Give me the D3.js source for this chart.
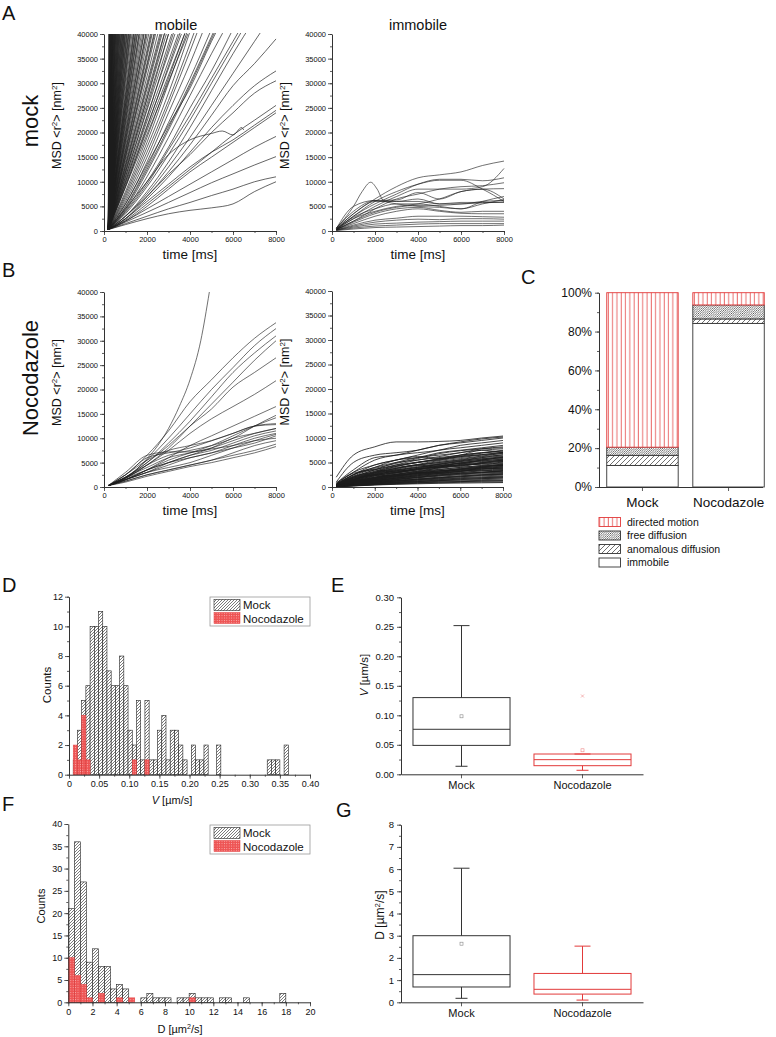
<!DOCTYPE html>
<html><head><meta charset="utf-8">
<script src="https://cdn.jsdelivr.net/npm/d3@7"></script>
<style>
body{margin:0;background:#fff}
svg{display:block}
text{font-family:"Liberation Sans",Arial,sans-serif;fill:#111}
</style>
</head><body>
<svg id="c" width="776" height="1037"></svg>
<script>
// ---------------- DATA ----------------
const msdTimes = [200,1000,2000,3000,4000,5000,6000,7000,8000];
const msdXTicks = [0,2000,4000,6000,8000];
const msdYTicks = [0,5000,10000,15000,20000,25000,30000,35000,40000];

// mock / mobile : steep tracks leaving the plot at 40000 nm² (exit time, ms)
const mockMobileStart = [200,300];
const mockMobileExitTimes = [220,235,250,260,265,280,295,300,310,325,340,345,355,370,380,385,400,415,420,430,450,460,470,490,500,510,530,540,550,575,590,600,625,640,650,675,690,700,730,740,760,790,800,820,850,860,880,910,920,940,970,990,1000,1040,1060,1080,1120,1140,1160,1200,1220,1250,1300,1350,1380,1400,1450,1460,1500,1540,1560,1620,1640,1680,1740,1800,1850,1870,1940,1960,2010,2080,2160,2200,2240,2320,2350,2400,2500,2600,2650,2700,2800,2900,3000,3150,3300,3450,3600,3750,3900];
// mock / mobile : slower tracks (MSD at msdTimes)
const mockMobileCurves = [
 [300,5000,13000,22000,31000,41000],
 [300,4500,12000,20500,29500,39000,48000],
 [300,5500,13500,21500,29000,38500,47000],
 [300,4000,10000,17000,25000,32500,41000],
 [300,3500,9000,15500,22500,30000,37500,45000],
 [300,3000,8000,14000,21000,28500,36000,43000],
 [300,3000,7500,13000,19000,25500,32000,38500,45000],
 [300,2500,7000,12000,17500,23500,29500,34000,39000],
 [300,2500,6500,11000,16000,21000,25500,29500,32500],
 [300,3000,7000,11500,15500,20000,24000,28000,30500],
 [300,2200,5500,9000,12500,16000,19500,22500,25500],
 [300,2500,6000,9500,13000,16000,18500,21500,24500],
 [300,2000,5000,8500,12000,15000,18000,21000,24000],
 [300,2000,4500,7000,9500,12000,14500,17000,19200],
 [300,1800,3800,5800,7800,9800,11600,13400,15100],
 [300,1500,3000,4500,5800,7200,8500,10000,11000],
 [300,1300,2500,3500,4200,4700,5500,8000,10000],
 [300,7000,17000,28000,40500],
 [300,8000,19000,31000,43000],
 [300,9000,21000,33500,46000],
 [300,10000,23000,37000,51000],
 [300,6000,15000,25500,36500,48000],
 [300,6500,16000,26500,38000,50000],
 [300,5500,14000,24000,34000,45000],
 [300,7500,18000,30000,42000],
 [300,11000,25000,40000],
 [300,12000,27000,43000],
 [300,4800,12500,21000,30000,39500,49000],
 [300,4200,11000,19000,27500,36000,44000],
 [300,3800,9500,16500,23500,31000,38500,46000]
];
const mockMobileWiggle = [[200,300],[1000,4500],[2000,10000],[3000,15500],[4000,18500],[5000,19800],[5500,20300],[6000,19500],[6400,21000],[6500,20500]];

// mock / immobile
const mockImmobileCurves = [
 [500,3500,6500,9000,10800,11400,12000,13300,14200],
 [400,3000,6000,8000,9500,10300,10300,8500,6000],
 [600,4000,6200,6300,7800,6500,8000,8500,6500],
 [300,2500,5000,7000,8500,8500,8500,9000,12700],
 [300,3000,5500,7500,9500,10500,10500,10200,10800],
 [300,2000,4500,6500,7500,8500,9000,9200,9800],
 [500,5000,6200,5500,5000,4800,4500,5500,6400],
 [400,2800,4500,5500,5500,5000,4500,6000,7000],
 [300,2000,3800,4800,5200,5200,5500,5700,5900],
 [300,1800,3500,4500,4800,4200,3800,4000,4000],
 [300,1500,3000,4000,4500,4000,3600,3500,3500],
 [200,1200,2200,2600,3000,3000,3000,2900,2800],
 [200,1000,1800,2200,2400,2300,2500,2500,2400],
 [200,800,1400,1600,1800,1900,2000,2000,2000],
 [150,600,1000,1200,1400,1500,1500,1500,1500],
 [100,400,700,800,900,1000,1100,1100,1200],
 [400,3500,6000,6000,6500,5500,5500,6000,6200],
 [300,2500,4000,5000,5500,6500,8000,8500,8600]
];
const mockImmobilePeak = [[200,600],[1000,5000],[1400,8000],[1800,9900],[2100,8500],[2400,6200],[3000,6000],[4000,6000],[5000,5500],[6000,5800],[7000,5800],[8000,5800]];

// nocodazole / mobile
const nocMobileCurves = [
 [300,2500,6500,11500,17500,22000,26500,30500,33700],
 [300,2000,5500,10000,15000,20000,24500,29000,32500],
 [300,2000,5000,9000,13500,18500,23500,27500,31000],
 [300,1800,4500,8000,12500,17000,21500,26000,30000],
 [300,2000,5000,8500,12500,16000,20500,23500,26500],
 [300,1800,4500,7500,11000,14000,16500,19000,21800],
 [300,1500,3500,6000,8500,10500,12500,14500,16500],
 [300,2000,4500,6500,7500,8500,10000,12500,14700],
 [300,1500,3500,5500,7000,8500,10500,12500,14200],
 [300,2500,5500,7500,8500,9500,11000,12500,12800],
 [300,2000,4000,6000,7000,8000,9500,11000,12000],
 [300,1500,3500,5000,6500,7500,9000,10500,11500],
 [300,1500,3000,4500,6000,7000,8500,10000,11000],
 [300,1500,3000,4000,5000,6500,8000,9500,10800],
 [300,1800,3500,5000,6000,7000,8000,9000,10500],
 [300,1200,2500,3500,4500,5500,7000,8500,9500],
 [300,1200,2500,3500,4500,5500,6500,7500,8800],
 [300,1000,2200,3200,4200,5000,6000,7000,8300],
 [300,3000,6500,7200,7200,7800,8500,9500,10000],
 [300,2500,6000,7000,8000,9500,11000,12500,13000],
 [300,1500,3000,5000,6500,8000,10000,11000,12000]
];
const nocMobileSteep = [[200,300],[1000,1800],[2000,5800],[2500,8500],[3000,12000],[3500,16500],[4000,22000],[4500,30000],[4900,40000]];

// nocodazole / immobile
const nocImmobileCurves = [
 [2000,6500,8200,9200,9200,9300,9500,10000,10400],
 [1000,5000,6500,7000,7500,8500,9000,9500,10000],
 [800,3500,6000,6500,7500,8500,9200,9800,10200],
 [600,3000,5500,6500,7000,7500,8500,9000,9500],
 [500,2500,4500,5500,6500,7500,8000,8500,9000],
 [400,2500,4000,5500,6000,7000,7500,8000,8500],
 [500,2000,3500,5000,6000,6500,7000,7800,8200],
 [400,2200,3800,4800,5800,6800,7400,7800,8000],
 [300,1800,3200,4500,5500,6200,7000,7500,7800],
 [500,2500,4000,5000,5500,6000,6500,7000,7500],
 [300,1500,3000,4200,5000,5800,6500,7000,7200],
 [400,2000,3500,4500,5000,5500,6200,6600,7000],
 [300,1600,2800,3800,4600,5400,6000,6500,6800],
 [300,1400,2600,3600,4400,5000,5600,6200,6500],
 [400,1800,3000,4000,4500,5000,5500,6000,6300],
 [300,1200,2400,3400,4200,4800,5400,5800,6000],
 [300,1500,2700,3500,4000,4600,5200,5600,5800],
 [200,1100,2200,3000,3800,4400,5000,5400,5600],
 [300,1300,2300,3100,3700,4300,4800,5200,5400],
 [200,1000,2000,2800,3500,4100,4600,5000,5200],
 [300,1400,2500,3200,3700,4100,4500,4800,5000],
 [200,900,1800,2600,3300,3900,4400,4700,4800],
 [200,1000,1900,2600,3100,3600,4000,4400,4600],
 [200,800,1600,2300,2900,3500,4000,4300,4400],
 [200,900,1700,2400,2900,3300,3700,4000,4200],
 [200,700,1500,2200,2700,3200,3600,3900,4000],
 [200,800,1500,2100,2600,3000,3400,3700,3800],
 [200,700,1300,1900,2400,2800,3200,3500,3600],
 [200,600,1200,1800,2300,2700,3000,3300,3400],
 [200,700,1300,1800,2200,2500,2800,3000,3200],
 [200,600,1100,1600,2000,2400,2700,2900,3000],
 [200,500,1000,1500,1900,2200,2500,2700,2800],
 [150,500,1000,1400,1700,2000,2300,2500,2600],
 [150,450,900,1300,1600,1900,2100,2300,2400],
 [150,400,800,1200,1500,1700,1900,2100,2200],
 [150,400,750,1100,1400,1600,1800,1900,2000],
 [100,350,700,1000,1200,1400,1600,1700,1800],
 [100,300,600,900,1100,1300,1400,1500,1600],
 [100,300,550,800,1000,1150,1250,1350,1400],
 [100,250,500,700,900,1000,1100,1200,1200],
 [100,250,450,600,750,850,950,1000,1000],
 [100,200,400,550,650,750,800,850,900],
 [600,2800,3500,3000,3800,4500,4200,5000,5500],
 [800,3000,4500,5500,6200,5800,6500,7500,7000],
 [400,1500,2500,2200,3000,3500,3200,4000,4500],
 [300,2000,2800,3500,3200,4000,4800,4500,5200],
 [500,2200,3000,3800,4500,4000,4600,5500,6000],
 [200,1200,1800,2500,2800,3000,3500,3300,3000],
 [300,1000,2000,2500,3000,2800,3200,3800,3700],
 [400,1800,2600,3300,4000,4700,5300,6000,6600],
 [300,1300,2000,2900,3600,4200,4900,5500,6100],
 [200,900,1500,2000,2500,3000,3500,3900,4300],
 [300,1500,2500,3300,4000,4600,5200,5700,6200],
 [250,1100,1900,2600,3200,3800,4300,4800,5300],
 [200,900,1600,2200,2800,3300,3800,4200,4700],
 [200,700,1300,1800,2300,2800,3200,3600,3900],
 [150,600,1100,1500,1900,2300,2600,2900,3300],
 [150,500,900,1300,1600,1900,2200,2500,2700],
 [100,400,700,1000,1300,1500,1700,1900,2100],
 [400,2000,3200,4200,5000,5700,6300,6900,7400],
 [350,1700,2900,3800,4500,5200,5800,6300,6900],
 [300,1300,2300,3000,3600,4300,4900,5300,5700],
 [200,1000,1700,2300,2800,3300,3600,4100,4500],
 [250,800,1400,2000,2500,2900,3300,3700,4100],
 [150,700,1200,1600,2000,2400,2800,3000,3300],
 [100,500,900,1200,1500,1800,2100,2400,2600],
 [100,350,650,900,1100,1300,1500,1700,1900],
 [100,300,500,700,850,1000,1100,1200,1300],
 [500,2500,3600,4300,5100,5600,6200,6600,7100],
 [300,1600,2400,2900,3500,4000,4400,4900,5500],
 [200,1100,1800,2400,2700,3100,3700,4200,4400],
 [200,800,1400,1700,2100,2600,2900,3300,3500]
];

// C: fractions (%)
const cCategories = ["Mock","Nocodazole"];
const cImmobile = [11.1, 84.2];
const cAnomalous = [5.2, 2.3];
const cFree = [4.2, 7.2];
const cDirected = [79.5, 6.3];
const cYTicks = [0,20,40,60,80,100];
const cLegend = ["directed motion","free diffusion","anomalous diffusion","immobile"];

// D: velocity histogram (bin width 0.007 µm/s, from 0)
const vBinWidth = 0.007;
const mockVCounts = [0,1,3,5,6,10,10,11,10,7,6,6,8,6,3,2,5,1,5,1,1,3,4,1,3,3,2,1,0,2,1,1,2,0,0,2,0,0,0,0,0,0,0,0,0,0,0,1,1,1,0,2];
const nocVCounts  = [0,2,1,4,1,0,0,0,0,0,0,0,0,0,0,1,0,0,1];
const dXTicks = [0,0.05,0.10,0.15,0.20,0.25,0.30,0.35,0.40];
const dYTicks = [0,2,4,6,8,10,12];

// E: velocity box plot
const boxCategories = ["Mock","Nocodazole"];
const eWhiskLow = [0.0136, 0.0068];
const eQ1 = [0.049, 0.0146];
const eMedian = [0.0763, 0.0248];
const eQ3 = [0.130, 0.0344];
const eWhiskHigh = [0.252, 0.0344];
const eMean = [0.0983, 0.0407];
const eOutlier = [null, 0.1327];
const eYTicks = [0,0.05,0.10,0.15,0.20,0.25,0.30];

// F: diffusion histogram (bin width 0.5 µm²/s)
const dBinWidth = 0.5;
const mockDCounts = [21,36,27,9,12,8,8,3,4,3,0,0,1,2,1,1,1,0,1,1,2,1,1,1,0,1,1,0,0,1,0,0,0,0,0,2];
const nocDCounts  = [10,6,4,1,0,2,0,0,1,0,1,0,0,0,0,0,0,0,0,0,1];
const fXTicks = [0,2,4,6,8,10,12,14,16,18,20];
const fYTicks = [0,5,10,15,20,25,30,35,40];

// G: diffusion box plot
const gWhiskLow = [0.18, 0.10];
const gQ1 = [0.69, 0.37];
const gMedian = [1.246, 0.585];
const gQ3 = [3.0, 1.3];
const gWhiskHigh = [6.04, 2.53];
const gMean = [2.64, null];
const gOutlier = [null, null];
const gYTicks = [0,1,2,3,4,5,6,7,8];

// ---------------- DRAWING ----------------
const svg = d3.select("#c");
const defs = svg.append("defs");
const RED = "#e23a3a";
const AX = "#333";

// patterns
function pat(id,w,h){return defs.append("pattern").attr("id",id).attr("patternUnits","userSpaceOnUse").attr("width",w).attr("height",h);}
{ const p=pat("hatchMock",3,3);
  p.append("rect").attr("width",3).attr("height",3).attr("fill","#fff");
  p.append("path").attr("d","M-0.75,0.75L0.75,-0.75M0,3L3,0M2.25,3.75L3.75,2.25").attr("stroke","#222").attr("stroke-width",0.6); }
{ const p=pat("dotsNoc",2.4,2.4);
  p.append("rect").attr("width",2.4).attr("height",2.4).attr("fill","#ee5454");
  p.append("circle").attr("cx",1.2).attr("cy",1.2).attr("r",0.5).attr("fill","#fbc4c4"); }
{ const p=pat("directed",4.3,10);
  p.append("rect").attr("width",4.3).attr("height",10).attr("fill","#fff");
  p.append("line").attr("x1",2).attr("x2",2).attr("y1",0).attr("y2",10).attr("stroke",RED).attr("stroke-width",0.8); }
{ const p=pat("free",2.2,2.2);
  p.append("rect").attr("width",2.2).attr("height",2.2).attr("fill","#fff");
  p.append("path").attr("d","M-0.55,0.55L0.55,-0.55M0,2.2L2.2,0M1.65,2.75L2.75,1.65").attr("stroke","#444").attr("stroke-width",0.7); }
{ const p=pat("anom",5,5);
  p.append("rect").attr("width",5).attr("height",5).attr("fill","#fff");
  p.append("path").attr("d","M-1.25,1.25L1.25,-1.25M0,5L5,0M3.75,6.25L6.25,3.75").attr("stroke","#333").attr("stroke-width",0.7); }

function axis(orient, scale, pos, major, minor, fmt, fs, pad){
  const gen = orient==="left" ? d3.axisLeft : d3.axisBottom;
  const tr = orient==="left" ? `translate(${pos},0)` : `translate(0,${pos})`;
  if(minor){
    const gm = svg.append("g").attr("transform",tr).call(gen(scale).tickValues(minor).tickSize(2).tickSizeOuter(0).tickFormat(""));
    gm.select(".domain").remove();
    gm.selectAll("line").attr("stroke",AX).attr("stroke-width",0.8);
  }
  const ga = svg.append("g").attr("transform",tr).call(gen(scale).tickValues(major).tickSize(4).tickSizeOuter(0).tickPadding(pad==null?2:pad).tickFormat(fmt));
  ga.selectAll("text").attr("font-size",fs).attr("fill","#222");
  ga.selectAll("line").attr("stroke",AX).attr("stroke-width",0.8);
  ga.select(".domain").attr("stroke",AX).attr("stroke-width",1);
  return ga;
}
function txt(x,y,s,fs,anchor,rot){
  const t = svg.append("text").attr("font-size",fs).attr("text-anchor",anchor||"middle");
  if(rot) t.attr("transform",`translate(${x},${y}) rotate(-90)`); else t.attr("x",x).attr("y",y);
  if(s!=null) t.text(s);
  return t;
}
function sup(t,s){ t.append("tspan").attr("baseline-shift","super").attr("font-size","65%").text(s); }

// ---- MSD panels ----
const lineGen = (x,y)=>d3.line().x(d=>x(d[0])).y(d=>y(d[1])).curve(d3.curveMonotoneX);
const toPairs = v => v.map((m,i)=>[msdTimes[i],m]);
function msdPanel(box, tracks, id, sw){
  const x = d3.scaleLinear().domain([0,8000]).range([box.x0,box.x1]);
  const y = d3.scaleLinear().domain([0,40000]).range([box.yB,box.yT]);
  defs.append("clipPath").attr("id",id).append("rect")
    .attr("x",box.x0).attr("y",box.yT-1).attr("width",box.x1-box.x0+1).attr("height",box.yB-box.yT+1);
  svg.append("g").attr("clip-path",`url(#${id})`).selectAll("path").data(tracks).join("path")
    .attr("d",lineGen(x,y)).attr("fill","none").attr("stroke","#1c1c1c").attr("stroke-width",sw).attr("stroke-opacity",0.9);
  const minorX = d3.range(0,8001,1000), minorY = d3.range(0,40001,2500);
  axis("left",y,box.x0,msdYTicks,minorY,d3.format("d"),7.5,2);
  axis("bottom",x,box.yB,msdXTicks,minorX,d3.format("d"),7.5,2);
  const t = txt(box.x0-43,(box.yT+box.yB)/2-7,null,12.5,"middle",true);
  t.append("tspan").text("MSD <r"); sup(t,"2"); t.append("tspan").text("> [nm"); sup(t,"2"); t.append("tspan").text("]");
  txt((box.x0+box.x1)/2, box.yB+28, "time [ms]", 13.5);
}
const boxAM = {x0:104,x1:276,yT:34,yB:231};
const boxAI = {x0:332,x1:504,yT:34,yB:231};
const boxBM = {x0:104,x1:276,yT:292,yB:487};
const boxBI = {x0:332,x1:503,yT:291,yB:487};

msdPanel(boxAM, mockMobileExitTimes.map(T=>[mockMobileStart,[T,40000]])
  .concat(mockMobileCurves.map(toPairs)).concat([mockMobileWiggle]), "clipAM", 0.75);
msdPanel(boxAI, mockImmobileCurves.map(toPairs).concat([mockImmobilePeak]), "clipAI", 0.7);
msdPanel(boxBM, nocMobileCurves.map(toPairs).concat([nocMobileSteep]), "clipBM", 0.7);
msdPanel(boxBI, nocImmobileCurves.map(toPairs), "clipBI", 0.9);

txt(176,30,"mobile",14.5);
txt(418,30,"immobile",14.5);
txt(38,121,"mock",22,"middle",true);
txt(38,378,"Nocodazole",22,"middle",true);

// ---- C stacked bars ----
{
  const x = d3.scaleBand().domain(cCategories).range([599,772]).paddingInner(0.17).paddingOuter(0.09);
  const y = d3.scaleLinear().domain([0,100]).range([487,292.7]);
  const rows = cCategories.map((c,i)=>({cat:c, immobile:cImmobile[i], anomalous:cAnomalous[i], free:cFree[i], directed:cDirected[i]}));
  const keys = ["immobile","anomalous","free","directed"];
  const fills = {immobile:"#fff", anomalous:"url(#anom)", free:"url(#free)", directed:"url(#directed)"};
  const strokes = {immobile:"#333", anomalous:"#333", free:"#333", directed:RED};
  const stacked = d3.stack().keys(keys)(rows);
  stacked.forEach(s=>{
    svg.append("g").selectAll("rect").data(s).join("rect")
      .attr("x",d=>x(d.data.cat)).attr("width",x.bandwidth())
      .attr("y",d=>y(d[1])).attr("height",d=>y(d[0])-y(d[1]))
      .attr("fill",fills[s.key]).attr("stroke",strokes[s.key]).attr("stroke-width",0.9);
  });
  axis("left",y,599,cYTicks,d3.range(0,101,10),d=>d+"%",12,3);
  const gx = axis("bottom",x,487,cCategories,null,d=>d,13.5,6);
  gx.select(".domain").attr("d","M599,0.5H763");
  const lg = svg.append("g");
  const lfill = ["url(#directed)","url(#free)","url(#anom)","#fff"];
  const lstroke = [RED,"#333","#333","#333"];
  cLegend.forEach((s,i)=>{
    const cy = 522 + i*13.5;
    lg.append("rect").attr("x",599).attr("y",cy-4.5).attr("width",21.5).attr("height",9).attr("fill",lfill[i]).attr("stroke",lstroke[i]).attr("stroke-width",0.9);
    lg.append("text").attr("x",627).attr("y",cy+3.8).attr("font-size",10.5).text(s);
  });
}

// ---- histograms ----
function histPanel(xr, yr, xd, yd, bw, mock, noc, xt, yt, xfmt, minorX, minorY, legTop){
  const x = d3.scaleLinear().domain(xd).range(xr);
  const y = d3.scaleLinear().domain(yd).range(yr);
  const draw = (counts, fill, stroke, sw) => svg.append("g").selectAll("rect")
    .data(counts.map((c,i)=>({i,c})).filter(d=>d.c>0)).join("rect")
    .attr("x",d=>x(d.i*bw)).attr("width",d=>x((d.i+1)*bw)-x(d.i*bw))
    .attr("y",d=>y(d.c)).attr("height",d=>y(0)-y(d.c))
    .attr("fill",fill).attr("stroke",stroke).attr("stroke-width",sw);
  draw(mock,"url(#hatchMock)","#222",0.6);
  draw(noc,"url(#dotsNoc)",RED,0.5);
  axis("left",y,xr[0],yt,minorY,d3.format("d"),9,2);
  axis("bottom",x,yr[0],xt,minorX,xfmt,9,2);
  const lg = svg.append("g");
  lg.append("rect").attr("x",210).attr("y",legTop).attr("width",100).attr("height",29).attr("fill","#fff").attr("stroke","#999").attr("stroke-width",0.8);
  lg.append("rect").attr("x",214).attr("y",legTop+2.5).attr("width",26).attr("height",11).attr("fill","url(#hatchMock)").attr("stroke","#222").attr("stroke-width",0.6);
  lg.append("rect").attr("x",214).attr("y",legTop+15.5).attr("width",26).attr("height",11).attr("fill","url(#dotsNoc)").attr("stroke",RED).attr("stroke-width",0.5);
  lg.append("text").attr("x",243).attr("y",legTop+12).attr("font-size",11.5).text("Mock");
  lg.append("text").attr("x",243).attr("y",legTop+25.5).attr("font-size",11.5).text("Nocodazole");
}
histPanel([69,310],[774.7,596.7],[0,0.40],[0,12],vBinWidth,mockVCounts,nocVCounts,dXTicks,dYTicks,
  d=>d===0?"0":d3.format(".2f")(d), d3.range(0,0.401,0.025), d3.range(0,12.1,1), 597);
histPanel([68.3,310],[1002.3,824],[0,20],[0,40],dBinWidth,mockDCounts,nocDCounts,fXTicks,fYTicks,
  d3.format("d"), d3.range(0,20.1,1), d3.range(0,40.1,2.5), 825);

txt(47,685,"Counts",11.5,"middle",true).attr("dy","0.35em");
txt(41,906,"Counts",11,"middle",true).attr("dy","0.35em");
{ const t = txt(172,804,null,11); t.append("tspan").attr("font-style","italic").text("V"); t.append("tspan").text(" [µm/s]"); }
{ const t = txt(180,1033,null,11); t.append("tspan").text("D [µm"); sup(t,"2"); t.append("tspan").text("/s]"); }

// ---- box plots ----
function boxPanel(yr, yd, yt, minorY, fmt, lo, q1, med, q3, hi, mean, outl){
  const x = d3.scaleBand().domain(boxCategories).range([401,643]).paddingInner(0.198).paddingOuter(0.099);
  const y = d3.scaleLinear().domain(yd).range(yr);
  const cols = ["#333", RED];
  const g = svg.append("g");
  boxCategories.forEach((c,i)=>{
    const x0 = x(c), w = x.bandwidth(), cx = x0+w/2, col = cols[i], cap = 8;
    g.append("line").attr("x1",cx).attr("x2",cx).attr("y1",y(hi[i])).attr("y2",y(q3[i])).attr("stroke",col);
    g.append("line").attr("x1",cx).attr("x2",cx).attr("y1",y(q1[i])).attr("y2",y(lo[i])).attr("stroke",col);
    g.append("line").attr("x1",cx-cap).attr("x2",cx+cap).attr("y1",y(hi[i])).attr("y2",y(hi[i])).attr("stroke",col);
    g.append("line").attr("x1",cx-cap*0.75).attr("x2",cx+cap*0.75).attr("y1",y(lo[i])).attr("y2",y(lo[i])).attr("stroke",col);
    g.append("rect").attr("x",x0).attr("width",w).attr("y",y(q3[i])).attr("height",y(q1[i])-y(q3[i]))
      .attr("fill","none").attr("stroke",col).attr("stroke-width",1);
    g.append("line").attr("x1",x0).attr("x2",x0+w).attr("y1",y(med[i])).attr("y2",y(med[i])).attr("stroke",col);
    if(mean[i]!=null) g.append("rect").attr("x",cx-1.5).attr("y",y(mean[i])-1.5).attr("width",3).attr("height",3)
      .attr("fill","none").attr("stroke",i?"#e88":"#888").attr("stroke-width",0.6);
    if(outl[i]!=null) g.append("path").attr("d",`M${cx-1.5},${y(outl[i])-1.5}l3,3m0,-3l-3,3`).attr("stroke","#e88").attr("stroke-width",0.6);
  });
  axis("left",y,401,yt,minorY,fmt,9.5,3);
  axis("bottom",x,yr[0],boxCategories,null,d=>d,11,3);
}
boxPanel([774.3,597.3],[0,0.30],eYTicks,d3.range(0,0.301,0.025),d3.format(".2f"),eWhiskLow,eQ1,eMedian,eQ3,eWhiskHigh,eMean,eOutlier);
boxPanel([1002.3,824.7],[0,8],gYTicks,d3.range(0,8.01,0.5),d3.format("d"),gWhiskLow,gQ1,gMedian,gQ3,gWhiskHigh,gMean,gOutlier);
{ const t = txt(364,675,null,11.5,"middle",true); t.attr("dy","0.35em");
  t.append("tspan").attr("font-style","italic").text("V"); t.append("tspan").text(" [µm/s]"); }
{ const t = txt(380,915,null,12,"middle",true); t.attr("dy","0.35em");
  t.append("tspan").text("D [µm"); sup(t,"2"); t.append("tspan").text("/s]"); }

// panel letters
[["A",2,20],["B",2,277],["C",521,284],["D",2,592],["E",331,592],["F",2,811],["G",336,817]]
  .forEach(d=>txt(d[1],d[2],d[0],20,"start"));
</script>
</body></html>
